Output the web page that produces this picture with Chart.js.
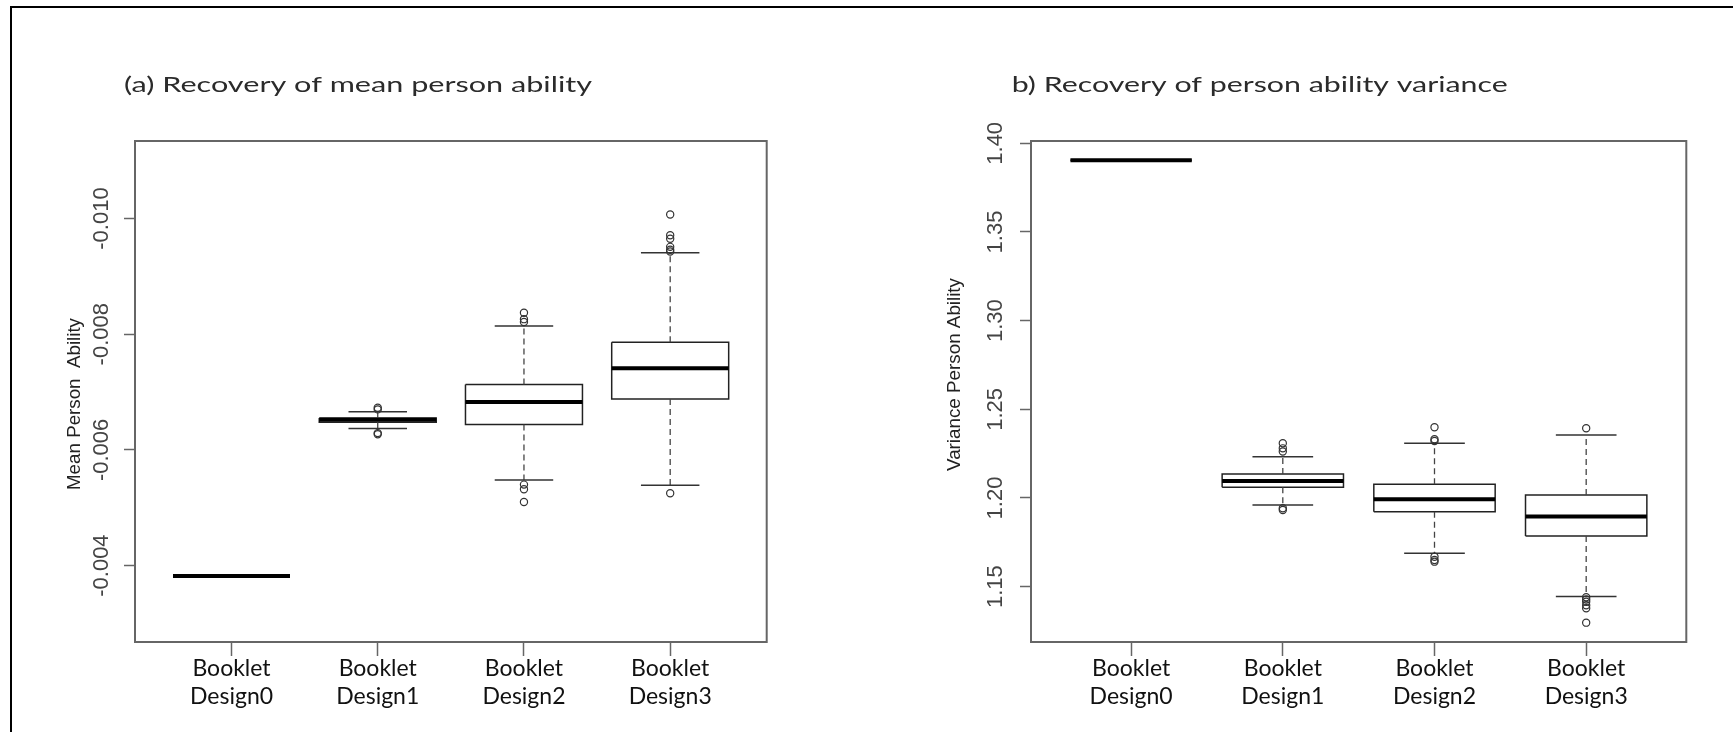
<!DOCTYPE html>
<html>
<head>
<meta charset="utf-8">
<title>Recovery of person ability</title>
<script src="https://cdn.jsdelivr.net/npm/chart.js@4.4.1/dist/chart.umd.min.js"></script>
<style>
  html, body { margin: 0; padding: 0; background: #fff; }
  #page { position: relative; width: 1733px; height: 732px; overflow: hidden; background: #fff; }
  #frame { position: absolute; left: 10px; top: 6px; width: 1760px; height: 760px;
           border-left: 2px solid #000; border-top: 2px solid #000; }
  canvas { position: absolute; top: 0; }
  #meanChart { left: 0; }
  #varChart { left: 866px; }
</style>
</head>
<body>
<div id="page">
  <div id="frame"></div>
  <canvas id="meanChart" width="866" height="732"></canvas>
  <canvas id="varChart" width="867" height="732"></canvas>
</div>
<script>
// Booklet designs on the x axis (two-line labels)
const designs = [
  ['Booklet', 'Design0'],
  ['Booklet', 'Design1'],
  ['Booklet', 'Design2'],
  ['Booklet', 'Design3']
];

// (a) mean person ability: five-number summaries per design
const meanWhiskerLow  = [-0.00382, -0.00666, -0.00814, -0.00941];
const meanQ1          = [-0.00382, -0.00655, -0.00713, -0.00786];
const meanMedian      = [-0.00382, -0.00652, -0.00683, -0.00741];
const meanQ3          = [-0.00382, -0.00648, -0.00644, -0.00688];
const meanWhiskerHigh = [-0.00382, -0.00637, -0.00548, -0.00539];
const meanOutliers = [
  [],
  [-0.00673, -0.00670, -0.00629, -0.00627],
  [-0.00837, -0.00826, -0.00821, -0.00540, -0.00532, -0.00510],
  [-0.01007, -0.00971, -0.00965, -0.00951, -0.00946, -0.00943, -0.00525]
];
const meanTicks      = [-0.010, -0.008, -0.006, -0.004];
const meanTickLabels = ['-0.010', '-0.008', '-0.006', '-0.004'];

// (b) person ability variance: five-number summaries per design
const varWhiskerLow  = [1.3904, 1.1961, 1.1688, 1.1444];
const varQ1          = [1.3904, 1.2060, 1.1923, 1.1786];
const varMedian      = [1.3904, 1.2096, 1.1993, 1.1895];
const varQ3          = [1.3904, 1.2135, 1.2077, 1.2017];
const varWhiskerHigh = [1.3904, 1.2233, 1.2309, 1.2355];
const varOutliers = [
  [],
  [1.2309, 1.2280, 1.2262, 1.1942, 1.1932],
  [1.2399, 1.2331, 1.2321, 1.1669, 1.1650, 1.1641],
  [1.2393, 1.1440, 1.1428, 1.1415, 1.1395, 1.1378, 1.1297]
];
const varTicks      = [1.15, 1.20, 1.25, 1.30, 1.35, 1.40];
const varTickLabels = ['1.15', '1.20', '1.25', '1.30', '1.35', '1.40'];

// Box and staple half-widths in x units (boxwex 0.8, staplewex 0.5)
const BOX_HALF = 0.4;
const CAP_HALF = 0.2;

// Turn summaries into line/scatter datasets drawn on the chart's scales
function boxplotDatasets(lo, q1, med, q3, hi, outliers) {
  const boxPts = [], medPts = [], whiskPts = [], capPts = [], outPts = [];
  q1.forEach((_, i) => {
    const c = i + 1;
    boxPts.push(
      { x: c - BOX_HALF, y: q1[i] }, { x: c + BOX_HALF, y: q1[i] },
      { x: c + BOX_HALF, y: q3[i] }, { x: c - BOX_HALF, y: q3[i] },
      { x: c - BOX_HALF, y: q1[i] }, { x: c, y: null });
    medPts.push({ x: c - BOX_HALF, y: med[i] }, { x: c + BOX_HALF, y: med[i] }, { x: c, y: null });
    if (hi[i] !== q3[i]) whiskPts.push({ x: c, y: q3[i] }, { x: c, y: hi[i] }, { x: c, y: null });
    if (lo[i] !== q1[i]) whiskPts.push({ x: c, y: q1[i] }, { x: c, y: lo[i] }, { x: c, y: null });
    if (hi[i] !== lo[i]) {
      capPts.push({ x: c - CAP_HALF, y: hi[i] }, { x: c + CAP_HALF, y: hi[i] }, { x: c, y: null });
      capPts.push({ x: c - CAP_HALF, y: lo[i] }, { x: c + CAP_HALF, y: lo[i] }, { x: c, y: null });
    }
    outliers[i].forEach(v => outPts.push({ x: c, y: v }));
  });
  const seg = { showLine: true, spanGaps: false, pointRadius: 0, pointHoverRadius: 0, pointHitRadius: 0, fill: false };
  return [
    Object.assign({ label: 'median', data: medPts, borderColor: '#000', borderWidth: 4, borderCapStyle: 'butt', order: 0 }, seg),
    { label: 'outliers', data: outPts, showLine: false, pointStyle: 'circle', pointRadius: 3.6,
      pointBorderWidth: 1.2, pointBorderColor: '#333', pointBackgroundColor: 'rgba(255,255,255,0)', order: 1 },
    Object.assign({ label: 'staples', data: capPts, borderColor: '#333', borderWidth: 1.5, order: 2 }, seg),
    Object.assign({ label: 'whiskers', data: whiskPts, borderColor: '#444', borderWidth: 1.3, borderDash: [6, 4], order: 3 }, seg),
    Object.assign({ label: 'box', data: boxPts, borderColor: '#222', borderWidth: 1.5, borderJoinStyle: 'miter', order: 4 }, seg)
  ];
}

// Plot frame, panel heading and rotated y-axis title
const panelDecor = {
  id: 'panelDecor',
  afterDatasetsDraw(chart, args, o) {
    const { ctx, chartArea: a } = chart;
    ctx.save();
    ctx.strokeStyle = '#666';
    ctx.lineWidth = 2;
    ctx.strokeRect(a.left, a.top, a.right - a.left, a.bottom - a.top);
    ctx.restore();

    ctx.save();
    ctx.fillStyle = '#2b2b2b';
    ctx.font = '21px Lato, "Open Sans", sans-serif';
    ctx.textBaseline = 'alphabetic';
    ctx.textAlign = 'left';
    const tw = ctx.measureText(o.heading).width;
    ctx.translate(o.headingX, o.headingY);
    ctx.scale(o.headingWidth / tw, 1);
    ctx.fillText(o.heading, 0, 0);
    ctx.restore();

    ctx.save();
    ctx.fillStyle = '#222';
    ctx.font = '18px "Liberation Sans Narrow", "Liberation Sans", Arial, sans-serif';
    ctx.textAlign = 'center';
    ctx.textBaseline = 'middle';
    const yw = ctx.measureText(o.yTitle).width;
    ctx.translate(o.yTitleX, o.yTitleY);
    ctx.rotate(-Math.PI / 2);
    ctx.scale(o.yTitleLength / yw, 1);
    ctx.fillText(o.yTitle, 0, 0);
    ctx.restore();
  }
};

function makeChart(id, spec) {
  return new Chart(document.getElementById(id), {
    type: 'scatter',
    data: { datasets: boxplotDatasets(spec.lo, spec.q1, spec.med, spec.q3, spec.hi, spec.outliers) },
    plugins: [panelDecor],
    options: {
      responsive: false,
      animation: false,
      devicePixelRatio: 1,
      events: [],
      layout: { padding: spec.padding },
      plugins: {
        legend: { display: false },
        tooltip: { enabled: false },
        title: { display: false },
        panelDecor: spec.decor
      },
      scales: {
        x: {
          type: 'linear',
          min: 0.34,
          max: 4.66,
          afterBuildTicks: s => { s.ticks = designs.map((_, i) => ({ value: i + 1 })); },
          afterFit: s => { s.height = 90; },
          grid: { drawOnChartArea: false, drawTicks: true, tickLength: 14, tickColor: '#666', tickWidth: 1.5 },
          border: { display: false },
          ticks: {
            autoSkip: false, maxRotation: 0, minRotation: 0, padding: -2,
            color: '#111',
            font: { family: 'Lato, "Open Sans", sans-serif', size: 23, lineHeight: 1.245 },
            callback: v => designs[Math.round(v) - 1]
          }
        },
        y: {
          type: 'linear',
          min: spec.yMin,
          max: spec.yMax,
          reverse: spec.reverse,
          afterBuildTicks: s => { s.ticks = spec.ticks.map(v => ({ value: v })); },
          afterFit: s => { s.width = 60; },
          grid: { drawOnChartArea: false, drawTicks: true, tickLength: 11, tickColor: '#666', tickWidth: 1.5 },
          border: { display: false },
          ticks: {
            minRotation: 90, maxRotation: 90, crossAlign: 'center', padding: spec.tickPadding,
            color: '#444',
            font: { family: '"Liberation Sans", Arial, sans-serif', size: 22 },
            callback: (v, i) => spec.tickLabels[i]
          }
        }
      }
    }
  });
}

makeChart('meanChart', {
  lo: meanWhiskerLow, q1: meanQ1, med: meanMedian, q3: meanQ3, hi: meanWhiskerHigh, outliers: meanOutliers,
  ticks: meanTicks, tickLabels: meanTickLabels,
  yMin: -0.01134, yMax: -0.002679, reverse: true, tickPadding: -9.5,
  padding: { left: 75, right: 99.3, top: 141, bottom: 0 },
  decor: {
    heading: '(a) Recovery of mean person ability', headingX: 124, headingY: 92, headingWidth: 468,
    yTitle: 'Mean Person  Ability', yTitleX: 75, yTitleY: 404, yTitleLength: 172
  }
});

makeChart('varChart', {
  lo: varWhiskerLow, q1: varQ1, med: varMedian, q3: varQ3, hi: varWhiskerHigh, outliers: varOutliers,
  ticks: varTicks, tickLabels: varTickLabels,
  yMin: 1.1188, yMax: 1.4013, reverse: false, tickPadding: 2.6,
  padding: { left: 105, right: 46.7, top: 141, bottom: 0 },
  decor: {
    heading: 'b) Recovery of person ability variance', headingX: 145.7, headingY: 92, headingWidth: 496,
    yTitle: 'Variance Person Ability', yTitleX: 89, yTitleY: 374.5, yTitleLength: 193
  }
});
</script>
</body>
</html>
